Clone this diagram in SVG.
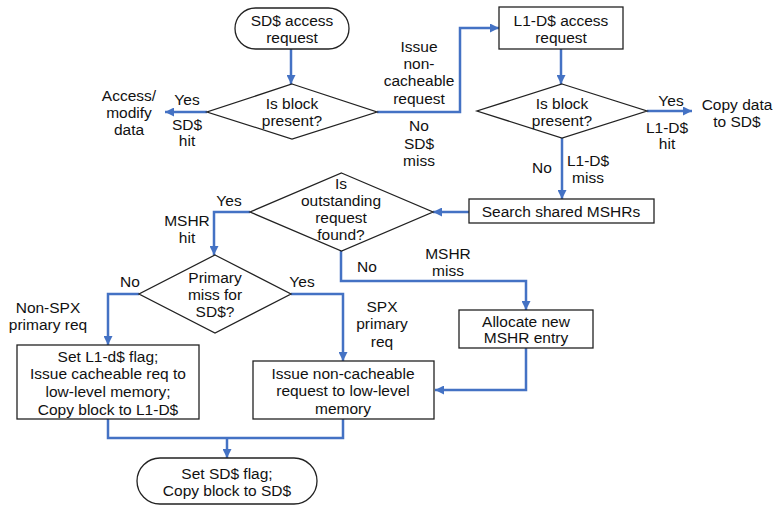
<svg xmlns="http://www.w3.org/2000/svg" width="775" height="506" viewBox="0 0 775 506">
<defs>
<marker id="ah" viewBox="0 0 10 10" refX="10" refY="5" markerWidth="9" markerHeight="9" markerUnits="userSpaceOnUse" orient="auto">
<path d="M0,0 L10,5 L0,10 z" fill="#4472C4"/>
</marker>
</defs>
<style>
.n{fill:#fff;stroke:#222;stroke-width:1.3}
.c{fill:none;stroke:#4472C4;stroke-width:2.5;stroke-linejoin:miter}
.a{marker-end:url(#ah)}
text{font-family:"Liberation Sans",Arial,sans-serif;font-size:15.5px;fill:#111;text-anchor:middle;dominant-baseline:central}
</style>
<rect width="775" height="506" fill="#fff"/>
<g id="connectors">
<path class="c a" d="M291,49 V84"/>
<path class="c a" d="M207,112 H165"/>
<path class="c a" d="M377,112 H460 V28 H499"/>
<path class="c a" d="M561,49 V84"/>
<path class="c a" d="M647,111 H692"/>
<path class="c a" d="M562,138 V199"/>
<path class="c a" d="M469,212 H433"/>
<path class="c a" d="M250,212 H214 V255"/>
<path class="c a" d="M341,251 V281 H526 V310"/>
<path class="c a" d="M139,294 H108 V345"/>
<path class="c a" d="M291,294 H343 V361"/>
<path class="c a" d="M526,348 V390 H435"/>
<path class="c" d="M108,419 V438 H343 V419"/>
<path class="c a" d="M227,438 V458"/>
</g>
<g id="sd-access">
<rect class="n" x="235" y="8" width="114" height="41" rx="20.5"/>
<text x="292" y="20">SD$ access</text>
<text x="292" y="37">request</text>
</g>
<g id="sd-present">
<path class="n" d="M292,84 L377,112 L292,139 L207,112 z"/>
<text x="292" y="103">Is block</text>
<text x="292" y="120">present?</text>
</g>
<g id="access-modify">
<text x="129" y="95">Access/</text>
<text x="129" y="112">modify</text>
<text x="129" y="129">data</text>
</g>
<g id="l1-access">
<rect class="n" x="499" y="7" width="124" height="42"/>
<text x="561" y="20">L1-D$ access</text>
<text x="561" y="37">request</text>
</g>
<g id="l1-present">
<path class="n" d="M562,84 L647,111 L562,138 L477,111 z"/>
<text x="562" y="103">Is block</text>
<text x="562" y="120">present?</text>
</g>
<g id="copy-data">
<text x="737" y="104">Copy data</text>
<text x="737" y="121">to SD$</text>
</g>
<g id="search-mshr">
<rect class="n" x="469" y="199" width="185" height="24"/>
<text x="561" y="211">Search shared MSHRs</text>
</g>
<g id="outstanding">
<path class="n" d="M341.5,173 L433,212 L341.5,251 L250,212 z"/>
<text x="341" y="183">Is</text>
<text x="341" y="200">outstanding</text>
<text x="341" y="217">request</text>
<text x="341" y="234">found?</text>
</g>
<g id="primary-miss">
<path class="n" d="M215,255 L291,294 L215,333 L139,294 z"/>
<text x="215" y="277">Primary</text>
<text x="215" y="294">miss for</text>
<text x="215" y="311">SD$?</text>
</g>
<g id="allocate">
<rect class="n" x="459" y="310" width="134" height="38"/>
<text x="526" y="321">Allocate new</text>
<text x="526" y="337">MSHR entry</text>
</g>
<g id="set-l1">
<rect class="n" x="17" y="345" width="182" height="74"/>
<text x="108" y="356">Set L1-d$ flag;</text>
<text x="108" y="373">Issue cacheable req to</text>
<text x="108" y="391">low-level memory;</text>
<text x="108" y="409">Copy block to L1-D$</text>
</g>
<g id="issue-noncache">
<rect class="n" x="253" y="361" width="181" height="58"/>
<text x="343" y="373">Issue non-cacheable</text>
<text x="343" y="390">request to low-level</text>
<text x="343" y="408">memory</text>
</g>
<g id="set-sd">
<rect class="n" x="137" y="458" width="180" height="46" rx="23"/>
<text x="227" y="473">Set SD$ flag;</text>
<text x="227" y="490">Copy block to SD$</text>
</g>
<g id="labels">
<text x="187" y="99">Yes</text>
<text x="187" y="124">SD$</text>
<text x="187" y="140">hit</text>
<text x="419" y="46">Issue</text>
<text x="419" y="63">non-</text>
<text x="419" y="80">cacheable</text>
<text x="419" y="98">request</text>
<text x="419" y="125">No</text>
<text x="419" y="143">SD$</text>
<text x="419" y="160">miss</text>
<text x="671" y="100">Yes</text>
<text x="667" y="127">L1-D$</text>
<text x="667" y="143">hit</text>
<text x="542" y="167">No</text>
<text x="588" y="160">L1-D$</text>
<text x="588" y="177">miss</text>
<text x="229" y="200">Yes</text>
<text x="187" y="220">MSHR</text>
<text x="187" y="237">hit</text>
<text x="367" y="266">No</text>
<text x="448" y="253">MSHR</text>
<text x="448" y="270">miss</text>
<text x="130" y="281">No</text>
<text x="48" y="307">Non-SPX</text>
<text x="48" y="324">primary req</text>
<text x="302" y="281">Yes</text>
<text x="382" y="306">SPX</text>
<text x="382" y="323">primary</text>
<text x="382" y="341">req</text>
</g>
</svg>
